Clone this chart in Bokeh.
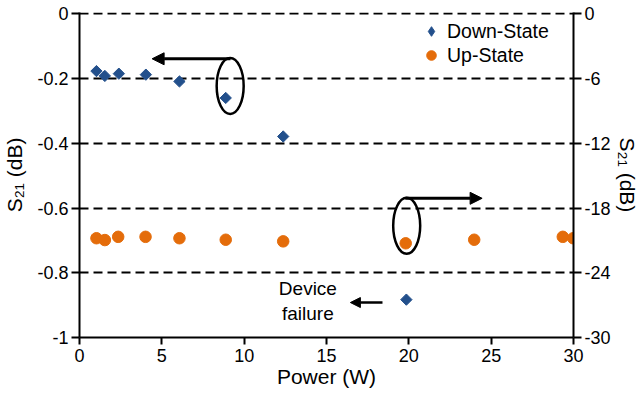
import numpy as np
from bokeh.plotting import figure
from bokeh.models import (Range1d, LinearAxis, FixedTicker, Arrow, NormalHead,
                          Legend, LegendItem)
from bokeh.core.properties import value
from bokeh.embed import file_html
from bokeh.resources import INLINE

# ---- data ----
power_down = [1.03, 1.54, 2.39, 4.03, 6.07, 8.88, 12.37, 19.85]
s21_down = [-0.177, -0.192, -0.185, -0.188, -0.209, -0.260, -0.379, -0.883]

power_up = [1.03, 1.54, 2.35, 4.01, 6.07, 8.88, 12.37, 19.81, 23.97, 29.35, 29.98]
s21_up = [-20.8, -20.97, -20.67, -20.67, -20.8, -20.94, -21.09, -21.27, -20.94, -20.67, -20.8]

x_ticks = [0, 5, 10, 15, 20, 25, 30]
x_tick_labels = ["0", "5", "10", "15", "20", "25", "30"]
left_ticks = [-1.0, -0.8, -0.6, -0.4, -0.2, 0.0]
left_tick_labels = ["-1", "-0.8", "-0.6", "-0.4", "-0.2", "0"]
right_ticks = [-30, -24, -18, -12, -6, 0]
right_tick_labels = ["-30", "-24", "-18", "-12", "-6", "0"]

series_names = ["Down-State", "Up-State"]
x_title = "Power (W)"
y_title = "S\u2082\u2081 (dB)"
note_text = "Device\nfailure"

# annotation placement (data units)
ellipse_x = [9.15, 19.87]
ellipse_y = [-0.223, -0.655]
ellipse_w = 1.64
ellipse_h = 0.173
arrow_left = dict(x0=9.17, x1=4.41, y=-0.139)
arrow_right = dict(x0=19.79, x1=24.45, y=-0.570)
arrow_fail = dict(x0=18.4, x1=16.45, y=-0.892)
note_pos = dict(x=13.87, y=-0.887)

BLUE = "#23508C"
ORANGE = "#E46C0A"
FONT = "Liberation Sans"
TOP_PAD = 0.004  # small headroom so the dashed line at 0 is not clipped

p = figure(width=642, height=396, x_range=Range1d(0, 30),
           y_range=Range1d(-1, TOP_PAD),
           output_backend="svg", toolbar_location=None,
           min_border_left=79, min_border_right=69, min_border_top=12,
           min_border_bottom=59)
p.extra_y_ranges = {"right": Range1d(-30, 30 * TOP_PAD)}
p.outline_line_color = None
p.background_fill_color = "white"
p.border_fill_color = "white"

p.xgrid.visible = False
p.ygrid.ticker = FixedTicker(ticks=left_ticks)
p.ygrid.grid_line_color = "black"
p.ygrid.grid_line_width = 2
p.ygrid.grid_line_dash = "9 5"


def style(ax, ticks, labels, title, tick_out=8, standoff=4, title_standoff=6):
    ax.ticker = FixedTicker(ticks=ticks)
    ax.major_label_overrides = {t: l for t, l in zip(ticks, labels)}
    ax.minor_tick_line_color = None
    ax.major_tick_in = 0
    ax.major_tick_out = tick_out
    ax.major_tick_line_width = 2
    ax.major_tick_line_color = "black"
    ax.axis_line_width = 2
    ax.axis_line_color = "black"
    ax.major_label_text_font = FONT
    ax.major_label_text_font_size = "18px"
    ax.major_label_text_color = "black"
    ax.major_label_standoff = standoff
    ax.axis_label = title
    ax.axis_label_text_font = FONT
    ax.axis_label_text_font_size = "21px"
    ax.axis_label_text_font_style = "normal"
    ax.axis_label_text_color = "black"
    ax.axis_label_standoff = title_standoff


style(p.xaxis[0], x_ticks, x_tick_labels, x_title, tick_out=7, standoff=4, title_standoff=0)
style(p.yaxis[0], left_ticks, left_tick_labels, y_title, tick_out=8, standoff=3, title_standoff=8)
ra = LinearAxis(y_range_name="right")
style(ra, right_ticks, right_tick_labels, y_title, tick_out=8, standoff=3, title_standoff=2)
p.add_layout(ra, "right")

down = p.scatter(power_down, s21_down, marker="square", angle=np.pi / 4, size=8,
                 fill_color=BLUE, line_color=BLUE)
# diamond-shaped twin (hidden under the rotated squares) used for the legend swatch
leg_down = p.scatter(power_down, s21_down, marker="diamond", size=7,
                     fill_color=BLUE, line_color=BLUE)
up = p.scatter(power_up, s21_up, y_range_name="right", marker="circle", size=11.5,
               fill_color=ORANGE, line_color=ORANGE)

p.ellipse(x=ellipse_x, y=ellipse_y, width=ellipse_w, height=ellipse_h,
          fill_color=None, line_color="black", line_width=2.5)

for a, lw, hs in [(arrow_left, 3, 12), (arrow_right, 3, 12), (arrow_fail, 2.5, 10)]:
    p.add_layout(Arrow(x_start=a["x0"], y_start=a["y"], x_end=a["x1"], y_end=a["y"],
                       line_width=lw, line_color="black",
                       end=NormalHead(size=hs, fill_color="black", line_color="black",
                                      line_width=1)))

p.text(x=[note_pos["x"]], y=[note_pos["y"]], text=[note_text], text_align="center",
       text_baseline="middle", text_font=value(FONT), text_font_size="19px",
       text_line_height=1.2, text_color="black")

legend = Legend(items=[LegendItem(label=series_names[0], renderers=[leg_down]),
                       LegendItem(label=series_names[1], renderers=[up])],
                location=(337, 270), orientation="vertical",
                glyph_width=30, glyph_height=24, label_height=24, spacing=0,
                padding=0, margin=0, label_standoff=1,
                background_fill_alpha=0, border_line_color=None,
                label_text_font=FONT, label_text_font_size="19.5px",
                label_text_color="black")
p.add_layout(legend)

open("out.html", "w").write(file_html(p, INLINE))
